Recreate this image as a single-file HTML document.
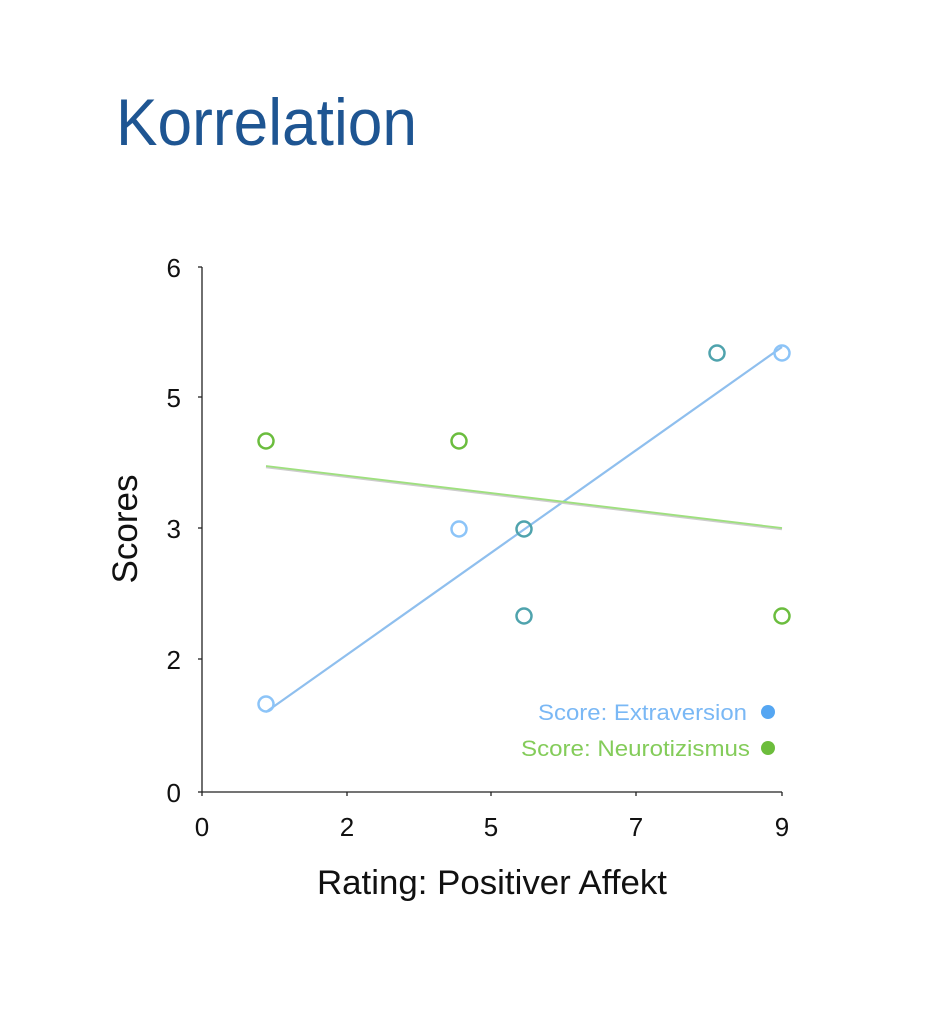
<!DOCTYPE html>
<html><head><meta charset="utf-8"><style>
html,body{margin:0;padding:0;background:#fff;}
svg{display:block;}
</style></head><body>
<svg width="930" height="1031" viewBox="0 0 930 1031" xmlns="http://www.w3.org/2000/svg" font-family="Liberation Sans, sans-serif">
<text x="116" y="145" font-size="66" fill="#1e5592" textLength="301" lengthAdjust="spacingAndGlyphs">Korrelation</text>
<g stroke="#222" stroke-width="1.3" fill="none">
<line x1="202" y1="267" x2="202" y2="792"/>
<line x1="202" y1="792" x2="782" y2="792"/>
<line x1="198" y1="267" x2="202" y2="267"/>
<line x1="198" y1="397" x2="202" y2="397"/>
<line x1="198" y1="528" x2="202" y2="528"/>
<line x1="198" y1="659" x2="202" y2="659"/>
<line x1="198" y1="792" x2="202" y2="792"/>
<line x1="202" y1="792" x2="202" y2="796"/>
<line x1="347" y1="792" x2="347" y2="796"/>
<line x1="491" y1="792" x2="491" y2="796"/>
<line x1="636" y1="792" x2="636" y2="796"/>
<line x1="782" y1="792" x2="782" y2="796"/>
</g>
<g font-size="26" fill="#111" text-anchor="end">
<text x="181" y="277">6</text>
<text x="181" y="407">5</text>
<text x="181" y="538">3</text>
<text x="181" y="669">2</text>
<text x="181" y="802">0</text>
</g>
<g font-size="26" fill="#111" text-anchor="middle">
<text x="202" y="836">0</text>
<text x="347" y="836">2</text>
<text x="491" y="836">5</text>
<text x="636" y="836">7</text>
<text x="782" y="836">9</text>
</g>
<text x="492" y="894" font-size="34" fill="#111" text-anchor="middle" textLength="350" lengthAdjust="spacingAndGlyphs">Rating: Positiver Affekt</text>
<text transform="translate(137,529) rotate(-90)" font-size="35" fill="#111" text-anchor="middle">Scores</text>
<line x1="266" y1="712" x2="782" y2="347" stroke="#8fbfee" stroke-width="2.2"/>
<line x1="266" y1="467" x2="782" y2="529" stroke="#cccccc" stroke-width="2.5"/>
<line x1="266" y1="466" x2="782" y2="528" stroke="#9ee07e" stroke-width="1.8"/>
<g fill="none" stroke-width="2.5">
<circle cx="266" cy="704" r="7.5" stroke="#8cc4f8"/>
<circle cx="459" cy="529" r="7.5" stroke="#8cc4f8"/>
<circle cx="782" cy="353" r="7.5" stroke="#8cc4f8"/>
<circle cx="524" cy="529" r="7.5" stroke="#4fa3ad"/>
<circle cx="524" cy="616" r="7.5" stroke="#4fa3ad"/>
<circle cx="717" cy="353" r="7.5" stroke="#4fa3ad"/>
<circle cx="266" cy="441" r="7.5" stroke="#6bbd3e"/>
<circle cx="459" cy="441" r="7.5" stroke="#6bbd3e"/>
<circle cx="782" cy="616" r="7.5" stroke="#6bbd3e"/>
</g>
<text x="747" y="720" font-size="22" fill="#7ab8f5" text-anchor="end" textLength="209" lengthAdjust="spacingAndGlyphs">Score: Extraversion</text>
<circle cx="768" cy="712" r="7" fill="#55a6f2"/>
<text x="750" y="756" font-size="22" fill="#84cc5a" text-anchor="end" textLength="229" lengthAdjust="spacingAndGlyphs">Score: Neurotizismus</text>
<circle cx="768" cy="748" r="7" fill="#6cbd3c"/>
</svg>
</body></html>
